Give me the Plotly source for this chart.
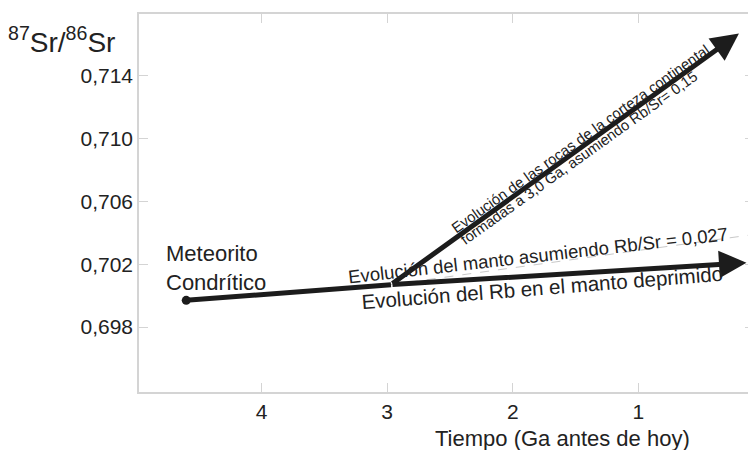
import plotly.graph_objects as go

# ---- data ----
meteorite_age = 4.60          # Ga
meteorite_ratio = 0.6997      # 87Sr/86Sr
junction_age = 2.97
junction_ratio = 0.7007
crust_end_age = 0.20
crust_end_ratio = 0.7167
mantle_end_age = 0.14
mantle_end_ratio = 0.7021
mantle027_end_age = 0.08
mantle027_end_ratio = 0.7039

x_ticks = [4, 3, 2, 1]
x_tick_labels = ["4", "3", "2", "1"]
y_ticks = [0.698, 0.702, 0.706, 0.710, 0.714]
y_tick_labels = ["0,698", "0,702", "0,706", "0,710", "0,714"]

FONT = "Liberation Sans, Arial, sans-serif"
INK = "#1c1c1c"
TXT = "#222222"
AX = "#d4d4d4"

fig = go.Figure()

# dashed faint line (manto Rb/Sr = 0,027)
fig.add_trace(go.Scatter(
    x=[junction_age, mantle027_end_age], y=[junction_ratio, mantle027_end_ratio],
    mode="lines", line=dict(color="#c8c8c8", width=1, dash="dash"),
    hoverinfo="skip", showlegend=False))

# meteorite -> junction
fig.add_trace(go.Scatter(
    x=[meteorite_age, junction_age], y=[meteorite_ratio, junction_ratio],
    mode="lines", line=dict(color=INK, width=5),
    hoverinfo="skip", showlegend=False))
fig.add_trace(go.Scatter(
    x=[meteorite_age], y=[meteorite_ratio], mode="markers",
    marker=dict(color=INK, size=9), hoverinfo="skip", showlegend=False))


def lerp(a, b, t):
    return a + (b - a) * t


annotations = []
# arrows
for ex, ey in [(crust_end_age, crust_end_ratio), (mantle_end_age, mantle_end_ratio)]:
    annotations.append(dict(
        x=ex, y=ey, ax=junction_age, ay=junction_ratio,
        xref="x", yref="y", axref="x", ayref="y", text="",
        showarrow=True, arrowhead=2, arrowwidth=5, arrowsize=1.1,
        arrowcolor=INK, standoff=0, startstandoff=0))

# crust labels
t1 = 0.55
annotations.append(dict(
    x=lerp(junction_age, crust_end_age, t1), y=lerp(junction_ratio, crust_end_ratio, t1),
    xref="x", yref="y", text="Evolución de las rocas de la corteza continental",
    showarrow=False, textangle=-35.5, yshift=8, xshift=-2,
    font=dict(family=FONT, size=14.8, color=TXT)))
t2 = 0.535
annotations.append(dict(
    x=lerp(junction_age, crust_end_age, t2), y=lerp(junction_ratio, crust_end_ratio, t2),
    xref="x", yref="y", text="formadas a 3,0 Ga, asumiendo Rb/Sr= 0,15",
    showarrow=False, textangle=-35.5, yshift=-8, xshift=2,
    font=dict(family=FONT, size=14.8, color=TXT)))

# mantle labels
t3 = 0.404
annotations.append(dict(
    x=lerp(junction_age, mantle027_end_age, t3), y=lerp(junction_ratio, mantle027_end_ratio, t3),
    xref="x", yref="y", text="Evolución del manto asumiendo Rb/Sr = 0,027",
    showarrow=False, textangle=-6.5, yshift=9,
    font=dict(family=FONT, size=18.5, color=TXT)))
t4 = 0.424
annotations.append(dict(
    x=lerp(junction_age, mantle_end_age, t4), y=lerp(junction_ratio, mantle_end_ratio, t4),
    xref="x", yref="y", text="Evolución del Rb en el manto deprimido",
    showarrow=False, textangle=-4.5, yshift=-12,
    font=dict(family=FONT, size=20.5, color=TXT)))

# meteorite label
annotations.append(dict(
    x=meteorite_age, y=meteorite_ratio, xref="x", yref="y",
    text="Meteorito<br>Condrítico", showarrow=False, align="left",
    xanchor="left", yanchor="bottom", xshift=-22, yshift=3,
    font=dict(family=FONT, size=22, color=TXT)))

# axis titles
annotations.append(dict(
    x=-0.2155, y=0.93, xref="paper", yref="paper", xanchor="left", yanchor="middle",
    text="<sup>87</sup>Sr/<sup>86</sup>Sr", showarrow=False,
    font=dict(family=FONT, size=28, color=TXT)))
annotations.append(dict(
    x=0.689, y=-0.122, xref="paper", yref="paper", xanchor="center", yanchor="middle",
    text="Tiempo (Ga antes de hoy)", showarrow=False,
    font=dict(family=FONT, size=22, color=TXT)))

# the page body adds an 8px margin at top/left, so the figure is 8px smaller
fig.update_layout(
    width=748, height=442,
    margin=dict(l=131, r=0, t=6, b=58),
    paper_bgcolor="white", plot_bgcolor="white",
    annotations=annotations,
    xaxis=dict(range=[4.976, 0.08], tickvals=x_ticks, ticktext=x_tick_labels,
               showgrid=False, zeroline=False, showline=True, linecolor=AX, linewidth=1.5,
               mirror="ticks", ticks="inside", ticklen=9, tickcolor=AX, tickwidth=1,
               tickfont=dict(family=FONT, size=21, color=TXT)),
    yaxis=dict(range=[0.69386, 0.71795], tickvals=y_ticks, ticktext=y_tick_labels,
               showgrid=False, zeroline=False, showline=True, linecolor=AX, linewidth=1.5,
               mirror="ticks", ticks="inside", ticklen=9, tickcolor=AX, tickwidth=1,
               tickfont=dict(family=FONT, size=21, color=TXT)),
)

fig.write_html("out.html")
